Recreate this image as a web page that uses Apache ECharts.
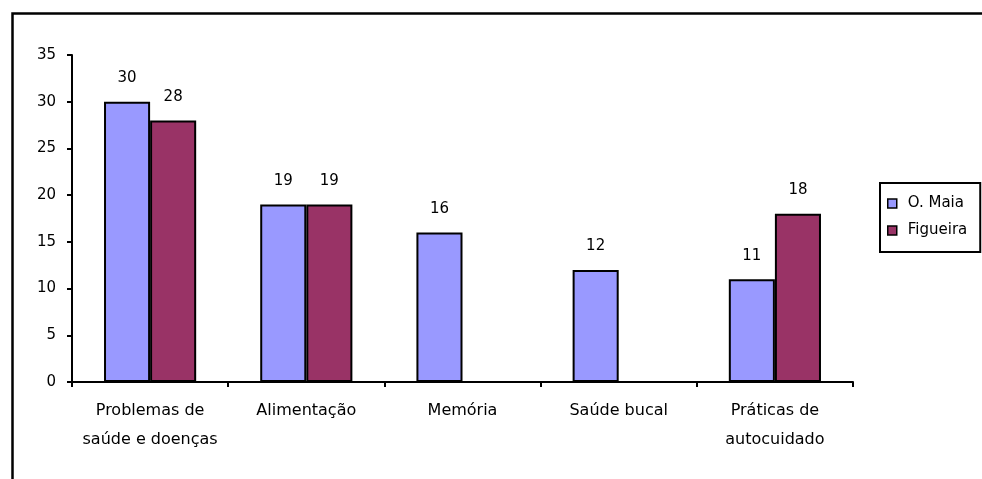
<!DOCTYPE html>
<html><head><meta charset="utf-8">
<script src="https://cdn.jsdelivr.net/npm/echarts@6/dist/echarts.min.js"></script>
<style>html,body{margin:0;padding:0;background:#fff}#c{width:982px;height:479px}</style>
</head><body><div id="c"></div>
<script>
const categories = ['Problemas de\nsaúde e doenças', 'Alimentação', 'Memória', 'Saúde bucal', 'Práticas de\nautocuidado'];
const seriesNames = ['O. Maia', 'Figueira'];
const oMaia = [30, 19, 16, 12, 11];
const figueira = [28, 19, null, null, 18];
const yTicks = { min: 0, max: 35, interval: 5 };

const chart = echarts.init(document.getElementById('c'), null, { renderer: 'canvas' });
const font = 'DejaVu Sans, Liberation Sans, Arial, sans-serif';
const barLabel = { show: true, position: 'top', distance: 16, color: '#000', fontSize: 15, fontFamily: font };
chart.setOption({
  animation: false,
  backgroundColor: '#fff',
  graphic: [{
    type: 'rect', left: 10, top: 11,
    shape: { x: 0, y: 0, width: 1000, height: 500 },
    style: { fill: 'none', stroke: '#000', lineWidth: 2.5 }, z: -1
  }],
  legend: {
    orient: 'vertical', left: 880, top: 183,
    data: seriesNames,
    itemWidth: 9, itemHeight: 9, itemGap: 12,
    padding: [13, 13, 14, 7],
    borderColor: '#000', borderWidth: 2,
    textStyle: { color: '#000', fontSize: 15, fontFamily: font, padding: [0, 0, 0, 6] },
    itemStyle: { borderColor: '#000', borderWidth: 1.5 },
    icon: 'rect'
  },
  grid: { left: 72, right: 129, top: 55, bottom: 97, containLabel: false },
  xAxis: {
    type: 'category', data: categories,
    axisLine: { lineStyle: { color: '#000', width: 2 } },
    axisTick: { show: true, length: 5, lineStyle: { color: '#000', width: 2 } },
    axisLabel: { color: '#000', fontSize: 16, fontFamily: font, margin: 14, lineHeight: 29, verticalAlign: 'top', interval: 0 }
  },
  yAxis: {
    type: 'value', min: yTicks.min, max: yTicks.max, interval: yTicks.interval,
    splitLine: { show: false },
    axisLine: { show: true, lineStyle: { color: '#000', width: 2 } },
    axisTick: { show: true, length: 5, lineStyle: { color: '#000', width: 2 } },
    axisLabel: { color: '#000', fontSize: 15, fontFamily: font, margin: 16 }
  },
  series: [
    { name: seriesNames[0], type: 'bar', data: oMaia, barGap: '0%', barCategoryGap: '41%',
      itemStyle: { color: '#9999FF', borderColor: '#000', borderWidth: 2 }, label: barLabel },
    { name: seriesNames[1], type: 'bar', data: figueira, barGap: '0%', barCategoryGap: '41%',
      itemStyle: { color: '#993366', borderColor: '#000', borderWidth: 2 }, label: barLabel }
  ]
});
</script></body></html>
